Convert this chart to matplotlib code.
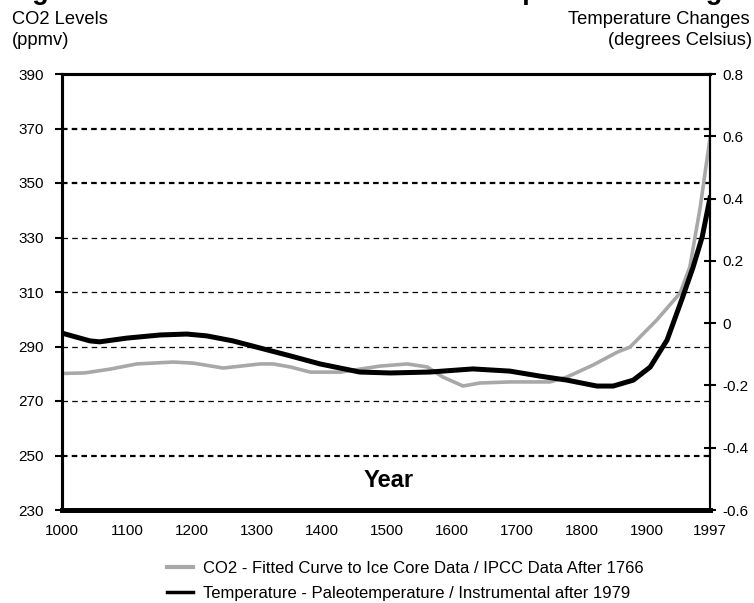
import matplotlib
matplotlib.use("Agg")
from matplotlib import pyplot as plt
from matplotlib.lines import Line2D
from matplotlib import font_manager

# 字体: Arial 替代
fams = [f.name for f in font_manager.fontManager.ttflist]
FONT = "Liberation Sans" if "Liberation Sans" in fams else "DejaVu Sans"
plt.rcParams["font.family"] = [FONT, "DejaVu Sans"]
plt.rcParams["lines.scale_dashes"] = False

# 数据
co2_years = [1000, 1035, 1074, 1115, 1171, 1202, 1248, 1305, 1325, 1351, 1382, 1428,
             1489, 1531, 1562, 1586, 1617, 1643, 1689, 1751, 1777, 1817, 1855, 1874,
             1915, 1951, 1966, 1982, 1997]
co2_ppmv = [280.1, 280.3, 281.7, 283.6, 284.3, 283.9, 282.1, 283.6, 283.6, 282.5, 280.6, 280.6,
            282.8, 283.6, 282.5, 278.8, 275.5, 276.6, 277.0, 277.0, 278.8, 283.2, 288.0, 289.8,
            299.7, 309.6, 319.2, 341.2, 366.5]

temp_years = [1000, 1043, 1058, 1100, 1151, 1192, 1223, 1263, 1305, 1351, 1397, 1458,
              1505, 1566, 1632, 1689, 1735, 1777, 1823, 1848, 1879, 1905, 1931, 1955,
              1971, 1985, 1997]
temp_c = [-0.032, -0.057, -0.060, -0.048, -0.038, -0.035, -0.041, -0.057, -0.080, -0.105,
          -0.131, -0.157, -0.160, -0.157, -0.147, -0.154, -0.170, -0.183, -0.202, -0.202,
          -0.183, -0.141, -0.054, 0.084, 0.180, 0.277, 0.402]

x_ticks = [1000, 1100, 1200, 1300, 1400, 1500, 1600, 1700, 1800, 1900, 1997]
co2_ticks = [230, 250, 270, 290, 310, 330, 350, 370, 390]
temp_ticks = [-0.6, -0.4, -0.2, 0, 0.2, 0.4, 0.6, 0.8]
temp_labels = ['-0.6', '-0.4', '-0.2', '0', '0.2', '0.4', '0.6', '0.8']
thick_grid = [250, 350, 370]

W, H = 754, 603
fig = plt.figure(figsize=(W / 100, H / 100), dpi=100)
ax = fig.add_axes([62 / W, 1 - 510 / H, (710 - 62) / W, (510 - 74) / H])
ax2 = ax.twinx()

# 网格线
for v in co2_ticks[1:-1]:
    lw = 1.6 if v in thick_grid else 0.9
    ax.axhline(v, color="black", lw=lw, ls=(0, (4, 3)), zorder=1)

ax.plot(co2_years, co2_ppmv, color="#a8a8a8", lw=2.6, zorder=3)
ax2.plot(temp_years, temp_c, color="black", lw=3.6, zorder=3)

ax.set_xlim(1000, 1997)
ax.set_ylim(230, 390)
ax2.set_ylim(-0.6, 0.8)

ax.set_xticks(x_ticks)
ax.set_xticklabels([str(t) for t in x_ticks], fontsize=11)
ax.set_yticks(co2_ticks)
ax.set_yticklabels([str(t) for t in co2_ticks], fontsize=11)
ax.tick_params(axis="x", length=0, pad=10)
ax.tick_params(axis="y", direction="out", length=5, width=1.5, pad=8)

ax2.set_yticks(temp_ticks)
ax2.set_yticklabels(temp_labels, fontsize=11)
ax2.tick_params(axis="y", direction="inout", length=8, width=1.5, pad=5)

for a in (ax, ax2):
    a.spines["top"].set_linewidth(2.2)
    a.spines["left"].set_linewidth(2.2)
    a.spines["bottom"].set_linewidth(3.4)
    a.spines["right"].set_linewidth(1.5)

ax.text(1503, 238.5, "Year", fontsize=17, fontweight="bold", ha="center", va="baseline")

# 标题（上方被截掉一部分）
fig.text(8 / W, 1 + 1 / H, "Figure 1: Historical CO\u2082 Levels and Temperature Changes",
         fontsize=19.5, fontweight="bold", ha="left", va="baseline",
         family=[FONT, "DejaVu Sans"])

fig.text(12 / W, 1 - 24 / H, "CO2 Levels", fontsize=13.2, ha="left", va="baseline")
fig.text(12 / W, 1 - 45 / H, "(ppmv)", fontsize=13.2, ha="left", va="baseline")
fig.text(750 / W, 1 - 24 / H, "Temperature Changes", fontsize=13.2, ha="right", va="baseline")
fig.text(752 / W, 1 - 45 / H, "(degrees Celsius)", fontsize=13.2, ha="right", va="baseline")

handles = [Line2D([], [], color="#a8a8a8", lw=3),
           Line2D([], [], color="black", lw=2.5)]
labels = ["CO2 - Fitted Curve to Ice Core Data / IPCC Data After 1766",
          "Temperature - Paleotemperature / Instrumental after 1979"]
fig.legend(handles, labels, loc="upper left", bbox_to_anchor=(167 / W, 1 - 561 / H),
           frameon=False, fontsize=12, handlelength=1.55, handletextpad=0.6,
           labelspacing=0.6, borderpad=0, borderaxespad=0)

plt.savefig("out.png", dpi=100)
